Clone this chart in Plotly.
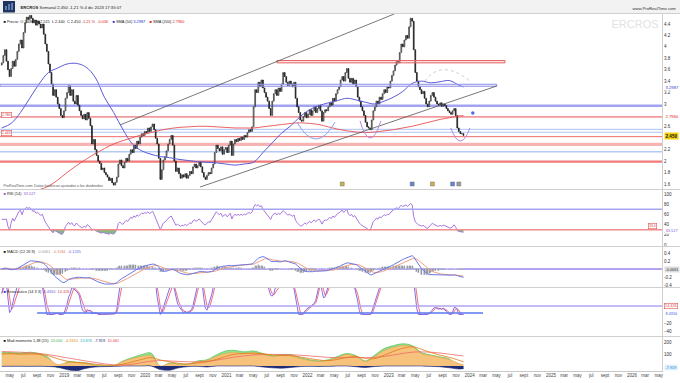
import pandas as pd
import numpy as np
import plotly.graph_objects as go
from plotly.subplots import make_subplots

# ---------------- data ----------------
LAST_DATE = "2023-12-04"
FIRST_OPEN = 3.68
close = [
    3.72, 3.85, 3.95, 3.75, 3.60, 3.48, 3.62, 3.75, 3.66, 3.78, 3.92, 4.05, 4.12, 3.98, 4.25, 4.42,
    4.52, 4.48, 4.55, 4.50, 4.42, 4.47, 4.38, 4.45, 4.40, 4.33, 4.40, 4.22, 4.05, 3.92, 3.70,
    3.55, 3.35, 3.15, 3.25, 3.12, 3.00, 2.92, 2.80, 2.76, 2.88, 3.10, 3.20, 3.32, 3.15, 3.25, 3.05,
    3.00, 3.15, 2.98, 2.88, 2.80, 2.74, 2.82, 2.72, 2.85, 2.75, 2.62,
    2.30, 2.38, 2.20, 2.10, 2.00, 1.96, 1.85, 1.88, 1.80, 1.76, 1.72, 1.66, 1.70, 1.62, 1.58, 1.63, 1.72,
    1.95, 2.02, 1.92, 1.88, 1.98, 2.05, 2.00, 2.12, 2.20, 2.15, 2.28, 2.22, 2.35, 2.30, 2.42, 2.48,
    2.45, 2.52, 2.50, 2.58, 2.52, 2.60, 2.65, 2.55, 2.40, 2.30,
    2.05, 1.68, 1.85, 2.02, 2.08, 2.18, 2.30, 2.38, 2.45, 2.28, 2.00, 1.82, 1.88, 1.78, 1.70, 1.76,
    1.72, 1.78, 1.70, 1.75, 1.82, 1.78, 1.90, 1.95, 1.88, 1.92, 1.98, 1.90, 1.80, 1.72, 1.68, 1.75,
    1.80, 1.78, 1.88, 1.95,
    2.15, 2.28, 2.22, 2.18, 2.25, 2.12, 2.20, 2.24, 2.15, 2.28, 2.35, 2.10, 2.30, 2.38, 2.34, 2.40,
    2.36, 2.42, 2.38, 2.45, 2.42, 2.50, 2.55, 2.52, 2.60,
    2.95, 3.25, 3.20, 3.38, 3.30, 3.42, 3.28, 3.20, 3.12, 3.05, 2.92, 2.80, 3.05, 3.18, 3.25, 3.15,
    3.28, 3.22, 3.35, 3.55, 3.48, 3.38, 3.32, 3.40, 3.35, 3.30, 3.38, 3.10, 2.95, 2.85, 2.72, 2.70,
    2.78, 2.85, 2.76, 2.82, 2.90, 2.80, 2.88, 2.95, 2.85, 2.92, 2.98, 2.88, 2.70, 2.85,
    2.90, 2.88, 2.95, 3.02, 2.98, 3.10, 3.05, 3.18, 3.25, 3.30, 3.42, 3.48, 3.40, 3.55, 3.62, 3.45,
    3.38, 3.45, 3.35, 3.42, 3.30, 3.12, 3.05, 2.95, 2.88, 2.80, 2.68, 2.60, 2.58, 2.55,
    2.72, 2.88, 2.95, 3.05, 3.00, 3.12, 3.08, 3.18, 3.25, 3.20, 3.30, 3.28, 3.40, 3.50, 3.58, 3.68,
    3.75, 3.72, 3.90, 4.05, 4.00, 4.12, 4.20, 4.15, 4.35, 4.50, 4.45,
    3.95, 3.55, 3.40, 3.30, 3.25, 3.18, 3.22, 3.10, 3.00, 2.95, 3.05, 3.15, 3.20, 3.12, 3.05, 3.00,
    2.98, 3.02, 2.96, 3.00, 2.97, 2.92, 2.88, 2.85, 2.82, 2.88, 2.92, 2.80, 2.58, 2.52, 2.48, 2.48, 2.45,
]

# indicator values read every 6 weeks (plus the last week)
SAMPLE_STEP = 6
sma50 = [2.58, 2.66, 2.85, 3.10, 3.35, 3.55, 3.63, 3.70, 3.71, 3.65, 3.47, 3.12, 2.85, 2.55, 2.30,
         2.18, 2.12, 2.08, 2.06, 2.03, 2.01, 1.99, 1.98, 1.97, 1.95, 1.93, 1.95, 1.98, 2.15, 2.32,
         2.49, 2.62, 2.78, 2.90, 2.97, 3.02, 3.06, 3.10, 3.07, 3.03, 3.00, 3.05, 3.12, 3.22, 3.36,
         3.40, 3.37, 3.39, 3.41, 3.33, 3.2987]
sma200 = [1.35, 1.38, 1.42, 1.46, 1.50, 1.56, 1.67, 1.80, 1.92, 2.03, 2.13, 2.22, 2.30, 2.36, 2.41,
          2.46, 2.50, 2.54, 2.57, 2.59, 2.60, 2.61, 2.61, 2.60, 2.59, 2.58, 2.58, 2.58, 2.60, 2.62,
          2.64, 2.66, 2.67, 2.66, 2.64, 2.60, 2.56, 2.53, 2.51, 2.50, 2.51, 2.53, 2.55, 2.58, 2.61,
          2.65, 2.69, 2.73, 2.76, 2.79, 2.796]
mom_green = [115, 112, 108, 115, 104, 70, -15, 33, 32, 25, 8, 3, 2, 42, 70, 95, 108, -5, 25, 16,
             15, 42, 52, 92, 125, 130, 118, 125, 104, 86, 95, 94, 68, 52, 42, 52, 80, 104, 86, 42,
             92, 145, 170, 185, 170, 112, 92, 76, 58, -12, -20]
mom_orange = [104, 104, 96, 104, 96, 62, 12, 29, 29, 21, 4, 0, 0, 37, 62, 79, 87, 0, 21, 12,
              12, 37, 46, 79, 104, 112, 104, 112, 96, 79, 87, 87, 62, 46, 37, 46, 71, 96, 79, 37,
              79, 129, 154, 171, 162, 104, 87, 71, 54, 21, 12]
mom_navy = [-3, -2, -2, -3, -2, -4, -10, -30, -40, -20, -8, -5, -3, 0, 0, 0, 0, -30, -35, -15,
            -5, -3, -8, 0, 0, 0, 0, 0, -8, -15, -18, -12, -5, -3, -4, -3, 0, 0, -6, -12,
            -4, 0, 0, 0, 0, 0, -3, -6, -15, -25, -22]
mom_red = [120, 118, 115, 110, 105, 95, 82, 68, 55, 42, 30, 18, 10, 8, 15, 28, 40, 45, 42, 38,
           35, 34, 38, 48, 62, 75, 85, 92, 96, 97, 96, 94, 90, 84, 78, 72, 68, 70, 72, 70,
           72, 80, 92, 105, 115, 118, 115, 108, 98, 88, 84]
mom_oline = [100, 102, 100, 100, 98, 85, 60, 40, 30, 25, 15, 8, 5, 15, 35, 55, 70, 50, 35, 22,
             18, 25, 35, 55, 80, 98, 105, 106, 102, 92, 88, 86, 76, 62, 50, 45, 55, 72, 78, 62,
             62, 90, 122, 148, 160, 140, 112, 90, 72, 48, 35]

# horizontal levels drawn on the price chart
full_levels = [  # (price, colour, width)
    (2.97, "#a3a3f2", 2.6),
    (2.775, "#f29a9a", 1.6),
    (2.557, "#adc3f0", 1.0),
    (2.505, "#adc3f0", 1.0),
    (2.428, "#f06a6a", 1.0),
    (2.165, "#b3caf2", 1.4),
    (1.99, "#f07a7a", 2.2),
]
band_level = (2.265, 2.32)
res_zone = ("2021-08-16", "2024-06-08", 3.72, 3.76)
blue_zone = ("2018-03-18", "2024-05-02", 3.31, 3.345)
channel_upper = (("2019-09-09", 2.632), ("2023-01-26", 4.575))
channel_lower = (("2020-09-04", 1.547), ("2024-05-02", 3.315))
event_dates = ["2022-06-06", "2023-04-17", "2023-07-17", "2023-10-16", "2023-11-13"]
event_colors = ["#c9b24a", "#5b86d6", "#c9b24a", "#5b86d6", "#9a9aaa"]
dot_point = ("2024-01-15", 2.842)

# 2.8 and 2.4 are hidden behind the SMA(200) and last-price labels in the reference
price_ticks = [4.4, 4.2, 4.0, 3.8, 3.6, 3.4, 3.2, 3.0, 2.6, 2.2, 2.0, 1.8, 1.6]
price_ticktext = ["4.4", "4.2", "4", "3.8", "3.6", "3.4", "3.2", "3", "2.6", "2.2", "2", "1.8", "1.6"]
rsi_ticks = [100, 80, 60, 40, 20, 0]
macd_ticks = [0.4, 0.2, -0.2, -0.4]
stoch_ticks = [-20, -40]
mom_ticks = [200, 100]
month_abbr = {3: "mar", 5: "may", 7: "jul", 9: "sept", 11: "nov"}

# ---------------- derived series ----------------
dates = pd.date_range(end=LAST_DATE, periods=len(close), freq="W-MON")
s = pd.Series(close, dtype=float)
opens = [FIRST_OPEN] + close[:-1]
highs = [max(o, c) for o, c in zip(opens, close)]
lows = [min(o, c) for o, c in zip(opens, close)]

idx = list(range(0, len(close), SAMPLE_STEP))
if idx[-1] != len(close) - 1:
    idx.append(len(close) - 1)
sdates = dates[idx]

d = s.diff().fillna(0)
gain = d.clip(lower=0).ewm(alpha=1 / 14, adjust=False).mean()
loss = (-d.clip(upper=0)).ewm(alpha=1 / 14, adjust=False).mean()
rsi = (100 - 100 / (1 + gain / loss.replace(0, np.nan))).fillna(50)

ema12 = s.ewm(span=12, adjust=False).mean()
ema26 = s.ewm(span=26, adjust=False).mean()
macd = ema12 - ema26
sig = macd.ewm(span=9, adjust=False).mean()
hist = macd - sig

lo14 = s.rolling(14, min_periods=1).min()
hi14 = s.rolling(14, min_periods=1).max()
raw = (100 * (s - lo14) / (hi14 - lo14).replace(0, np.nan)).fillna(50)
stk = raw.rolling(3, min_periods=1).mean()
std = stk.rolling(3, min_periods=1).mean()

# ---------------- figure ----------------
W, H = 680, 383
PLOT_R = 662
TOP, BOT = 14, 371


def ppx(x):
    return x / PLOT_R


def ppy(y):
    return (BOT - y) / (BOT - TOP)


fig = make_subplots(rows=5, cols=1, shared_xaxes=True, vertical_spacing=0.0)

FONT = "Liberation Sans, Arial, sans-serif"

# price
fig.add_trace(go.Candlestick(
    x=dates, open=opens, high=highs, low=lows, close=close,
    increasing=dict(line=dict(color="#3a3a3a", width=0.8), fillcolor="#e8e8e8"),
    decreasing=dict(line=dict(color="#202020", width=0.8), fillcolor="#202020"),
    showlegend=False, hoverinfo="skip"), row=1, col=1)
fig.add_trace(go.Scatter(x=sdates, y=sma50, mode="lines",
                         line=dict(color="#5b5bd8", width=1, shape="spline"),
                         showlegend=False, hoverinfo="skip"), row=1, col=1)
fig.add_trace(go.Scatter(x=sdates, y=sma200, mode="lines",
                         line=dict(color="#e85050", width=0.9, shape="spline"),
                         showlegend=False, hoverinfo="skip"), row=1, col=1)
fig.add_trace(go.Scatter(x=pd.to_datetime(event_dates), y=[1.6] * len(event_dates), mode="markers",
                         marker=dict(symbol="square", size=4, color=event_colors,
                                     line=dict(color="#777", width=0.5)),
                         showlegend=False, hoverinfo="skip"), row=1, col=1)
fig.add_trace(go.Scatter(x=[pd.Timestamp(dot_point[0])], y=[dot_point[1]], mode="markers",
                         marker=dict(size=3.5, color="#4a6fe0"),
                         showlegend=False, hoverinfo="skip"), row=1, col=1)

# RSI
fig.add_trace(go.Scatter(x=dates, y=[30] * len(dates), mode="lines", line=dict(width=0),
                         showlegend=False, hoverinfo="skip"), row=2, col=1)
fig.add_trace(go.Scatter(x=dates, y=np.minimum(rsi, 30), mode="lines", line=dict(width=0),
                         fill="tonexty", fillcolor="rgba(80,170,80,0.75)",
                         showlegend=False, hoverinfo="skip"), row=2, col=1)
fig.add_trace(go.Scatter(x=dates, y=rsi, mode="lines", line=dict(color="#a878e0", width=1),
                         showlegend=False, hoverinfo="skip"), row=2, col=1)

# MACD
fig.add_trace(go.Bar(x=dates, y=hist, marker_color="#1a1a1a", width=4 * 86400000,
                     showlegend=False, hoverinfo="skip"), row=3, col=1)
fig.add_trace(go.Scatter(x=dates, y=sig, mode="lines", line=dict(color="#f0a080", width=1),
                         showlegend=False, hoverinfo="skip"), row=3, col=1)
fig.add_trace(go.Scatter(x=dates, y=macd, mode="lines", line=dict(color="#6a78e6", width=1),
                         showlegend=False, hoverinfo="skip"), row=3, col=1)

# Stochastic
fig.add_trace(go.Scatter(x=dates, y=std, mode="lines", line=dict(color="#f07080", width=1),
                         showlegend=False, hoverinfo="skip"), row=4, col=1)
fig.add_trace(go.Scatter(x=dates, y=stk, mode="lines", line=dict(color="#8a6ae6", width=1),
                         showlegend=False, hoverinfo="skip"), row=4, col=1)

# Momentum
fig.add_trace(go.Scatter(x=sdates, y=mom_green, mode="lines", fill="tozeroy", fillcolor="#8fe08f",
                         line=dict(color="#55c055", width=0.7, shape="spline"),
                         showlegend=False, hoverinfo="skip"), row=5, col=1)
fig.add_trace(go.Scatter(x=sdates, y=mom_orange, mode="lines", fill="tozeroy", fillcolor="#f6c27c",
                         line=dict(color="#e6a248", width=0.6, shape="spline"),
                         showlegend=False, hoverinfo="skip"), row=5, col=1)
fig.add_trace(go.Scatter(x=sdates, y=mom_navy, mode="lines", fill="tozeroy", fillcolor="#1f2a78",
                         line=dict(color="#1f2a78", width=0.6, shape="spline"),
                         showlegend=False, hoverinfo="skip"), row=5, col=1)
fig.add_trace(go.Scatter(x=sdates, y=mom_red, mode="lines",
                         line=dict(color="#f06868", width=0.8, shape="spline"),
                         showlegend=False, hoverinfo="skip"), row=5, col=1)
fig.add_trace(go.Scatter(x=sdates, y=mom_oline, mode="lines",
                         line=dict(color="#e07a12", width=0.8, shape="spline"),
                         showlegend=False, hoverinfo="skip"), row=5, col=1)

# ---------------- axes ----------------
tickvals, ticktext = [], []
for yr in range(2018, 2027):
    for m in (1, 3, 5, 7, 9, 11):
        tickvals.append(pd.Timestamp(yr, m, 1))
        ticktext.append(str(yr) if m == 1 else month_abbr[m])

XR = ["2018-03-18", "2026-05-16"]
fig.update_xaxes(range=XR, showgrid=False, zeroline=False, showline=False,
                 rangeslider_visible=False, showticklabels=False, ticks="")
fig.update_xaxes(row=5, col=1, showticklabels=True, tickvals=tickvals, ticktext=ticktext,
                 tickfont=dict(size=4.5, color="#444", family=FONT), ticklen=0,
                 showline=True, linecolor="#c8c8c8", linewidth=1)

yax_common = dict(side="right", showgrid=False, zeroline=False, showline=True,
                  linecolor="#d0d0d0", linewidth=1, ticks="",
                  tickfont=dict(size=4.5, color="#333", family=FONT))
fig.update_layout(
    yaxis=dict(domain=[ppy(189), 1.0], range=[1.512, 4.575], tickvals=price_ticks,
               ticktext=price_ticktext, **yax_common),
    yaxis2=dict(domain=[ppy(246), ppy(190)], range=[-2, 107.8], tickvals=rsi_ticks, **yax_common),
    yaxis3=dict(domain=[ppy(287), ppy(247)], range=[-0.45, 0.55], tickvals=macd_ticks,
                ticktext=["0.4", "0.2", "-0.2", "-0.4"], **yax_common),
    yaxis4=dict(domain=[ppy(336), ppy(288)], range=[-50.6, 62.4], tickvals=stoch_ticks, **yax_common),
    yaxis5=dict(domain=[0.0, ppy(337)], range=[-41.7, 241.7], tickvals=mom_ticks, **yax_common),
)

# ---------------- shapes ----------------
shapes = []
# header strip
shapes.append(dict(type="rect", xref="paper", yref="paper", x0=0, x1=W / PLOT_R, y0=ppy(13), y1=ppy(0),
                   fillcolor="#f2f2f2", line=dict(width=0), layer="below"))
shapes.append(dict(type="line", xref="paper", yref="paper", x0=0, x1=W / PLOT_R, y0=ppy(13.5), y1=ppy(13.5),
                   line=dict(color="#d0d0d0", width=1)))
shapes.append(dict(type="rect", xref="paper", yref="paper", x0=ppx(3), x1=ppx(15), y0=ppy(12.5), y1=ppy(1),
                   fillcolor="#1d3560", line=dict(width=0)))
for bx, by0, by1 in [(6, 10, 6), (9, 10, 4), (12, 10, 3)]:
    shapes.append(dict(type="line", xref="paper", yref="paper", x0=ppx(bx), x1=ppx(bx),
                       y0=ppy(by0), y1=ppy(by1), line=dict(color="#8fb0e8", width=1.2)))
# panel separators
for sy in (189.5, 246.5, 287.5, 336.5):
    shapes.append(dict(type="line", xref="paper", yref="paper", x0=0, x1=W / PLOT_R, y0=ppy(sy), y1=ppy(sy),
                       line=dict(color="#cfcfcf", width=1)))
# price levels
shapes.append(dict(type="rect", xref="paper", yref="y", x0=0, x1=1, y0=band_level[0], y1=band_level[1],
                   fillcolor="#f6b3b3", line=dict(width=0), layer="below"))
for lvl, col, wd in full_levels:
    shapes.append(dict(type="line", xref="paper", yref="y", x0=0, x1=1, y0=lvl, y1=lvl,
                       line=dict(color=col, width=wd), layer="below"))
shapes.append(dict(type="rect", xref="x", yref="y", x0=res_zone[0], x1=res_zone[1], y0=res_zone[2],
                   y1=res_zone[3], fillcolor="rgba(250,190,190,0.35)", line=dict(color="#e86060", width=1)))
shapes.append(dict(type="rect", xref="x", yref="y", x0=blue_zone[0], x1=blue_zone[1], y0=blue_zone[2],
                   y1=blue_zone[3], fillcolor="rgba(200,200,250,0.2)", line=dict(color="#8f8fea", width=1)))
# channel
for (a, b) in (channel_upper, channel_lower):
    shapes.append(dict(type="line", xref="x", yref="y", x0=a[0], y0=a[1], x1=b[0], y1=b[1],
                       line=dict(color="#555555", width=0.8)))
# arcs around lows
shapes.append(dict(type="path", xref="x", yref="y",
                   path="M 2021-11-14,2.685 Q 2022-02-08,2.089 2022-05-05,2.685",
                   line=dict(color="#8aa6ea", width=1)))
shapes.append(dict(type="path", xref="x", yref="y",
                   path="M 2022-08-25,2.703 Q 2022-10-10,2.107 2022-11-27,2.703",
                   line=dict(color="#b28ae0", width=1)))
shapes.append(dict(type="path", xref="x", yref="y",
                   path="M 2023-10-08,2.58 Q 2023-11-20,2.124 2024-01-02,2.58",
                   line=dict(color="#b28ae0", width=1)))
shapes.append(dict(type="path", xref="x", yref="y",
                   path="M 2023-06-13,3.40 Q 2023-08-28,3.80 2024-01-02,3.40",
                   line=dict(color="#b8b8b8", width=0.7, dash="dot")))
# RSI levels
shapes.append(dict(type="line", xref="paper", yref="y2", x0=0, x1=1, y0=70, y1=70,
                   line=dict(color="#a5a5f0", width=1.4)))
shapes.append(dict(type="line", xref="paper", yref="y2", x0=0, x1=1, y0=30, y1=30,
                   line=dict(color="#f08c8c", width=1.4)))
# MACD zero
shapes.append(dict(type="line", xref="paper", yref="y3", x0=0, x1=1, y0=0, y1=0,
                   line=dict(color="#b4a4f2", width=2), layer="below"))
# Stochastic levels
shapes.append(dict(type="line", xref="paper", yref="y4", x0=0, x1=1, y0=20, y1=20,
                   line=dict(color="#b0a4f0", width=1.6)))
shapes.append(dict(type="line", xref="x", yref="y4", x0="2018-09-01", x1="2024-03-01", y0=3.5, y1=3.5,
                   line=dict(color="#5a78f0", width=1.5)))
fig.update_layout(shapes=shapes)

# ---------------- annotations ----------------
ann = []


def txt(x, y, text, size=4, color="#222", xanchor="left", bg=None, border=None, bold=False):
    a = dict(xref="paper", yref="paper", x=ppx(x), y=ppy(y), text=("<b>%s</b>" % text) if bold else text,
             showarrow=False, xanchor=xanchor, yanchor="middle",
             font=dict(size=size, color=color, family=FONT), borderpad=0.5)
    if bg:
        a["bgcolor"] = bg
    if border:
        a["bordercolor"] = border
        a["borderwidth"] = 0.6
    ann.append(a)


txt(19, 7, "<b>ERCROS</b> Semanal 2,450 -1,21 % 4 dic 2023 17:35:07", 4.2, "#222")
txt(678, 8, "www.ProRealTime.com", 4.2, "#333", xanchor="right")
txt(660, 23, "ERCROS", 11, "#e2e2e2", xanchor="right")
txt(2, 21, "<span style='color:#111'>■</span> Precio: O 2.480  H 2.515  L 2.440  C 2.450 "
           "<span style='color:#e02020'>-1.21 %  -0.030</span>    "
           "<span style='color:#2233cc'>■</span> SMA (50) <span style='color:#2233cc'>3.2987</span>    "
           "<span style='color:#e02020'>■</span> SMA (200) <span style='color:#e02020'>2.7960</span>", 3.9)
txt(2, 185, "ProRealTime.com: Datos históricos ajustados a los dividendos", 3.6, "#555")
txt(0.5, 114.5, "2.780", 3.4, "#d03030", bg="#ffffff", border="#e05050")
txt(0.5, 133, "2.443", 3.4, "#d03030", bg="#ffffff", border="#e05050")
# right-side value labels
txt(664, 87, "3.2987", 4.2, "#2a3ad0", bg="#ffffff")
txt(664, 116, "2.7960", 4.2, "#e02020", bg="#ffffff")
txt(663.5, 135.5, "2.450", 4.6, "#111", bg="#f5d10f", bold=True)
# RSI
txt(2, 192.5, "<span style='color:#8a5ad0'>■</span> RSI (14)  <span style='color:#8a5ad0'>33.527</span>", 3.9)
txt(664, 229.5, "33.527", 4, "#8a5ad0", bg="#ffffff")
txt(652, 225.5, "33.4", 3.4, "#d03030", bg="#ffffff", border="#e05050", xanchor="center")
# MACD
txt(2, 250.5, "<span style='color:#111'>■</span> MACD (12 26 9)  <span style='color:#999'>-0.0061</span>  "
              "<span style='color:#e08060'>-0.1184</span>  <span style='color:#5a6ae0'>-0.1245</span>", 3.9)
txt(663.5, 269, "-0.0061", 3.8, "#333", bg="#dddddd")
# Stochastic
txt(2, 291, "<span style='color:#2a2ad0'>■</span> Estocástico (14 3 3)  <span style='color:#6a50e0'>8.4310</span>  "
            "<span style='color:#e04050'>14.326</span>", 3.9)
txt(663.5, 306, "14.326", 3.8, "#e04050", bg="#ffffff", border="#e05050")
txt(663.5, 313, "8.4310", 3.8, "#3a5ae0", bg="#ffffff")
# Momentum
txt(2, 340, "<span style='color:#111'>■</span> Mad momento 1,38 (15)  <span style='color:#3cb043'>13.000</span>  "
            "<span style='color:#e08a20'>-4.3310</span>  <span style='color:#20b0c0'>13.876</span>  "
            "<span style='color:#1f2a78'>-7.919</span>  <span style='color:#e04040'>10.461</span>", 3.9)
txt(663.5, 367, "-7.919", 3.8, "#1f7ab0", bg="#e0f0ff")
fig.update_layout(annotations=ann)

fig.update_layout(
    width=W, height=H,
    margin=dict(l=0, r=W - PLOT_R, t=TOP, b=H - BOT, pad=0),
    paper_bgcolor="#ffffff", plot_bgcolor="#ffffff",
    showlegend=False, bargap=0,
    font=dict(family=FONT, size=5, color="#333"),
)

fig.write_html("out.html")
